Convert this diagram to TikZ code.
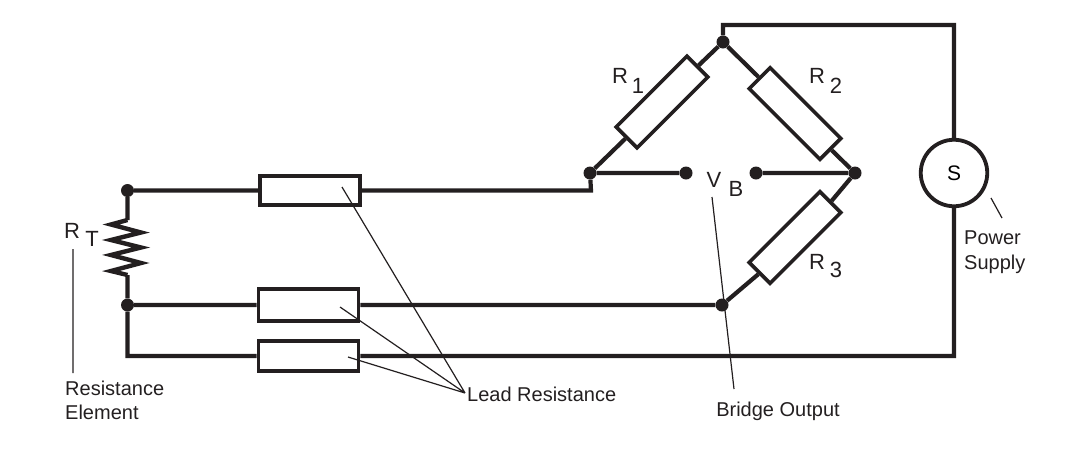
\documentclass[tikz,border=0pt]{standalone}
\usepackage{fontspec}
\setmainfont{Liberation Sans}
\usetikzlibrary{positioning}
\definecolor{wirecol}{HTML}{231F20}
\tikzset{
    %Define style for resistor boxes
    resbox/.style={
           rectangle,
           draw=wirecol, line width=3.6pt,
           fill=white,
           minimum width=100pt,
           minimum height=29.5pt,
           inner sep=0pt},
    %Define style for junction dots
    dot/.style={
           circle,
           fill=wirecol,
           minimum size=13pt,
           inner sep=0pt},
    supply/.style={
           circle,
           draw=wirecol, line width=3.8pt,
           fill=white,
           minimum size=66.5pt,
           inner sep=0pt,
           font=\fontsize{21}{24}\selectfont},
    lbl/.style={
           inner sep=0pt,
           text=wirecol,
           font=\fontsize{22}{24}\selectfont},
    note/.style={
           inner sep=0pt,
           text=wirecol,
           align=left,
           font=\fontsize{20}{24}\selectfont},
    % Define wire styles
    wire/.style={
           draw=wirecol,
           line width=4.2pt,
           line join=miter},
    leader/.style={
           draw=wirecol,
           line width=1.2pt}
}
\begin{document}
\begin{tikzpicture}[x=1pt,y=-1pt]
\useasboundingbox (0,0) rectangle (1092,456);
% junctions
\node[dot](top) at (723,42){};
\node[dot](left) at (590,173){};
\node[dot](right) at (855,173){};
\node[dot](bot) at (722,305){};
\node[dot](vbl) at (686,173){};
\node[dot](vbr) at (756,173){};
\node[dot](rta) at (127.5,190.5){};
\node[dot](rtb) at (127.5,305){};
% resistors
\node[resbox,rotate=45](r1) at (662,102){};
\node[resbox,rotate=-45](r2) at (795,113.5){};
\node[resbox,rotate=45](r3) at (795,237.5){};
\node[resbox](la) at (310,190.5){};
\node[resbox,minimum height=32pt](lb) at (308.5,305){};
\node[resbox](lc) at (308.5,356){};
\node[supply](s) at (954,173){S};
% free ends of the wires
\coordinate (c1) at (723,25);
\coordinate (c2) at (954,25);
\coordinate (c3) at (954,356);
\coordinate (c4) at (127.5,356);
\coordinate (c5) at (591,190.5);
\coordinate (z0) at (127.5,220);
\coordinate (z9) at (127.5,275);
% wires
\path[wire]
    (top) -- (c1) -- (c2) -- (s)
    (s) -- (c3) -- (lc.east)
    (lc.west) -- (c4) -- (rtb)
    (rtb) -- (z9)
    (z0) -- (rta)
    (rta) -- (la.west)
    (la.east) -- (c5) -- (left)
    (rtb) -- (lb.west)
    (lb.east) -- (bot)
    (left) -- (r1.west)
    (r1.east) -- (top)
    (top) -- (r2.west)
    (r2.east) -- (right)
    (right) -- (r3.east)
    (r3.west) -- (bot)
    (left) -- (vbl)
    (vbr) -- (right);
\draw[draw=wirecol,line width=4.4pt]
    (z0) -- (111,224.5) -- (141,232.5) -- (111,240) -- (141,247.5)
    -- (111,255) -- (141,263) -- (111,271) -- (z9);
% labels
\node[lbl](r1a) at (620,76){R};
\node[lbl](r1b) at (638,86){1};
\node[lbl](r2a) at (817,76){R};
\node[lbl](r2b) at (836,86){2};
\node[lbl](r3a) at (817,262){R};
\node[lbl](r3b) at (836,270){3};
\node[lbl](vba) at (714,180){V};
\node[lbl](vbb) at (736,189){B};
\node[lbl](rt1) at (72,231){R};
\node[lbl](rt2) at (92,239){T};
\node[note,anchor=north west](elem) at (65,380.5){Resistance\\Element};
\node[note,anchor=west](lead) at (467,394){Lead Resistance};
\node[note,anchor=north](out) at (778,402){Bridge Output};
\node[note,anchor=north west,font=\fontsize{20}{25}\selectfont](pow) at (964,231){Power\\Supply};
% leaders
\coordinate (ma) at (342,187);
\coordinate (mb) at (340,307);
\coordinate (mc) at (348,357);
\coordinate (mj) at (465,393);
\path[leader]
    (ma) -- (mj)
    (mb) -- (mj)
    (mc) -- (mj)
    (73,249) -- (73,373)
    (712,197) -- (734,389)
    (991,198) -- (1002,218);
\end{tikzpicture}
\end{document}
